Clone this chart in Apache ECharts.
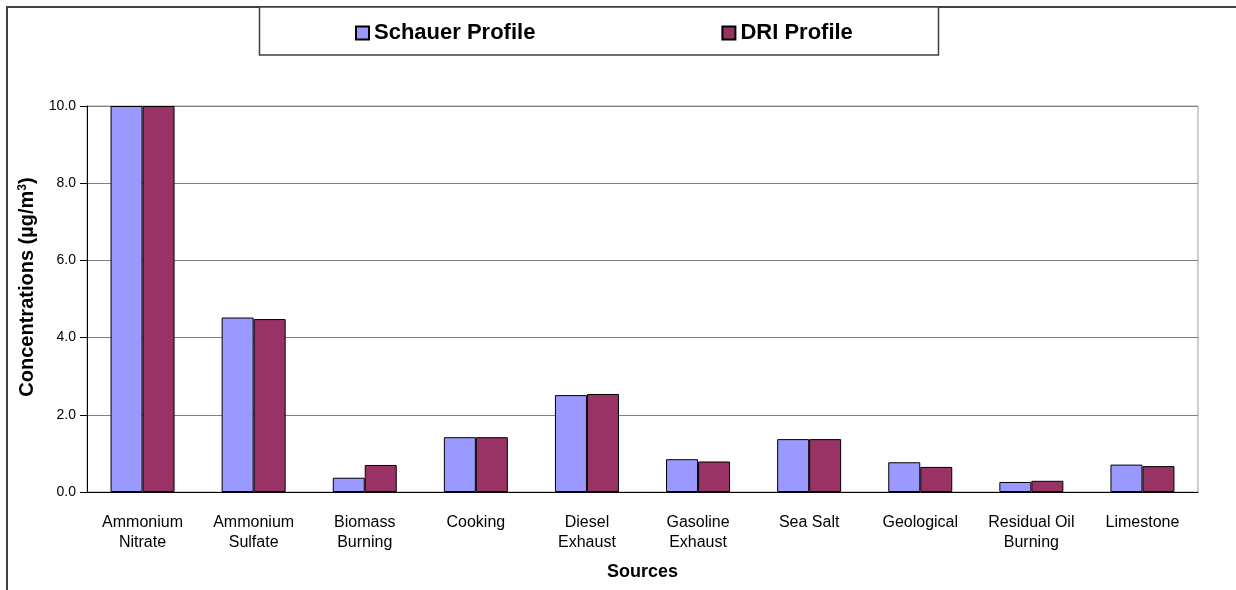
<!DOCTYPE html>
<html>
<head>
<meta charset="utf-8">
<script src="https://cdn.jsdelivr.net/npm/echarts@6/dist/echarts.min.js"></script>
<style>
  html, body { margin: 0; padding: 0; background: #fff; }
  #chart { width: 1236px; height: 590px; }
</style>
</head>
<body>
<div id="chart"></div>
<script>
// source categories (line break = how they wrap under the axis)
var sources = [
  'Ammonium\nNitrate', 'Ammonium\nSulfate', 'Biomass\nBurning', 'Cooking',
  'Diesel\nExhaust', 'Gasoline\nExhaust', 'Sea Salt', 'Geological',
  'Residual Oil\nBurning', 'Limestone'
];
// concentrations in ug/m3
var schauer = [10.0, 4.52, 0.37, 1.42, 2.51, 0.85, 1.37, 0.77, 0.26, 0.71];
var dri     = [10.0, 4.48, 0.70, 1.42, 2.54, 0.79, 1.37, 0.65, 0.29, 0.67];
var yTicks  = [0, 2, 4, 6, 8, 10];

var font = "'Liberation Sans', Arial, sans-serif";

var myChart = echarts.init(document.getElementById('chart'));
myChart.setOption({
  animation: false,
  textStyle: { fontFamily: font },
  graphic: [
    // outer chart border (runs off the right / bottom edge)
    { type: 'rect', silent: true, shape: { x: 7, y: 7, width: 1400, height: 800 },
      style: { fill: 'none', stroke: '#404040', lineWidth: 2 } },
    // legend frame
    { type: 'rect', silent: true, shape: { x: 259.5, y: 7, width: 679, height: 48 },
      style: { fill: '#fff', stroke: '#404040', lineWidth: 1.5 } }
  ],
  legend: {
    data: ['Schauer Profile', 'DRI Profile'],
    left: 350,
    top: 17,
    itemWidth: 13,
    itemHeight: 13,
    itemGap: 186,
    icon: 'rect',
    textStyle: { fontFamily: font, fontSize: 22, fontWeight: 'bold', color: '#000' },
    z: 10
  },
  grid: {
    left: 87, right: 38, top: 106, bottom: 98,
    show: true, borderColor: '#a0a0a0', borderWidth: 1
  },
  xAxis: {
    type: 'category',
    data: sources,
    name: 'Sources',
    nameLocation: 'middle',
    nameGap: 71,
    nameTextStyle: { fontFamily: font, fontSize: 18, fontWeight: 'bold', color: '#000' },
    axisLine: { lineStyle: { color: '#000', width: 1 } },
    axisTick: { length: 5, lineStyle: { color: '#000' } },
    axisLabel: {
      interval: 0, margin: 21, lineHeight: 20,
      fontFamily: font, fontSize: 16, color: '#000'
    }
  },
  yAxis: {
    type: 'value',
    min: yTicks[0],
    max: yTicks[yTicks.length - 1],
    interval: 2,
    name: '{a|Concentrations (µg/m}{s|3}{a|)}',
    nameLocation: 'middle',
    nameRotate: 90,
    nameGap: 45,
    nameTextStyle: {
      padding: [0, 0, 0, 24],
      rich: {
        a: { fontFamily: font, fontSize: 20, fontWeight: 'bold', color: '#000' },
        s: { fontFamily: font, fontSize: 12, fontWeight: 'bold', color: '#000', verticalAlign: 'top', padding: [0, 0, 10, 0] }
      }
    },
    axisLine: { show: true, lineStyle: { color: '#000', width: 1 } },
    axisTick: { show: true, length: 7, lineStyle: { color: '#000' } },
    axisLabel: {
      margin: 11, fontFamily: font, fontSize: 14, color: '#000',
      formatter: function (v) { return v.toFixed(1); }
    },
    splitLine: { lineStyle: { color: '#808080', width: 1.2 } }
  },
  series: [
    {
      name: 'Schauer Profile',
      type: 'bar',
      data: schauer,
      barWidth: 32,
      barGap: '0%',
      itemStyle: { color: '#9999FF', borderColor: '#000', borderWidth: 1 }
    },
    {
      name: 'DRI Profile',
      type: 'bar',
      data: dri,
      barWidth: 32,
      barGap: '0%',
      itemStyle: { color: '#993366', borderColor: '#000', borderWidth: 1 }
    }
  ]
});
</script>
</body>
</html>
